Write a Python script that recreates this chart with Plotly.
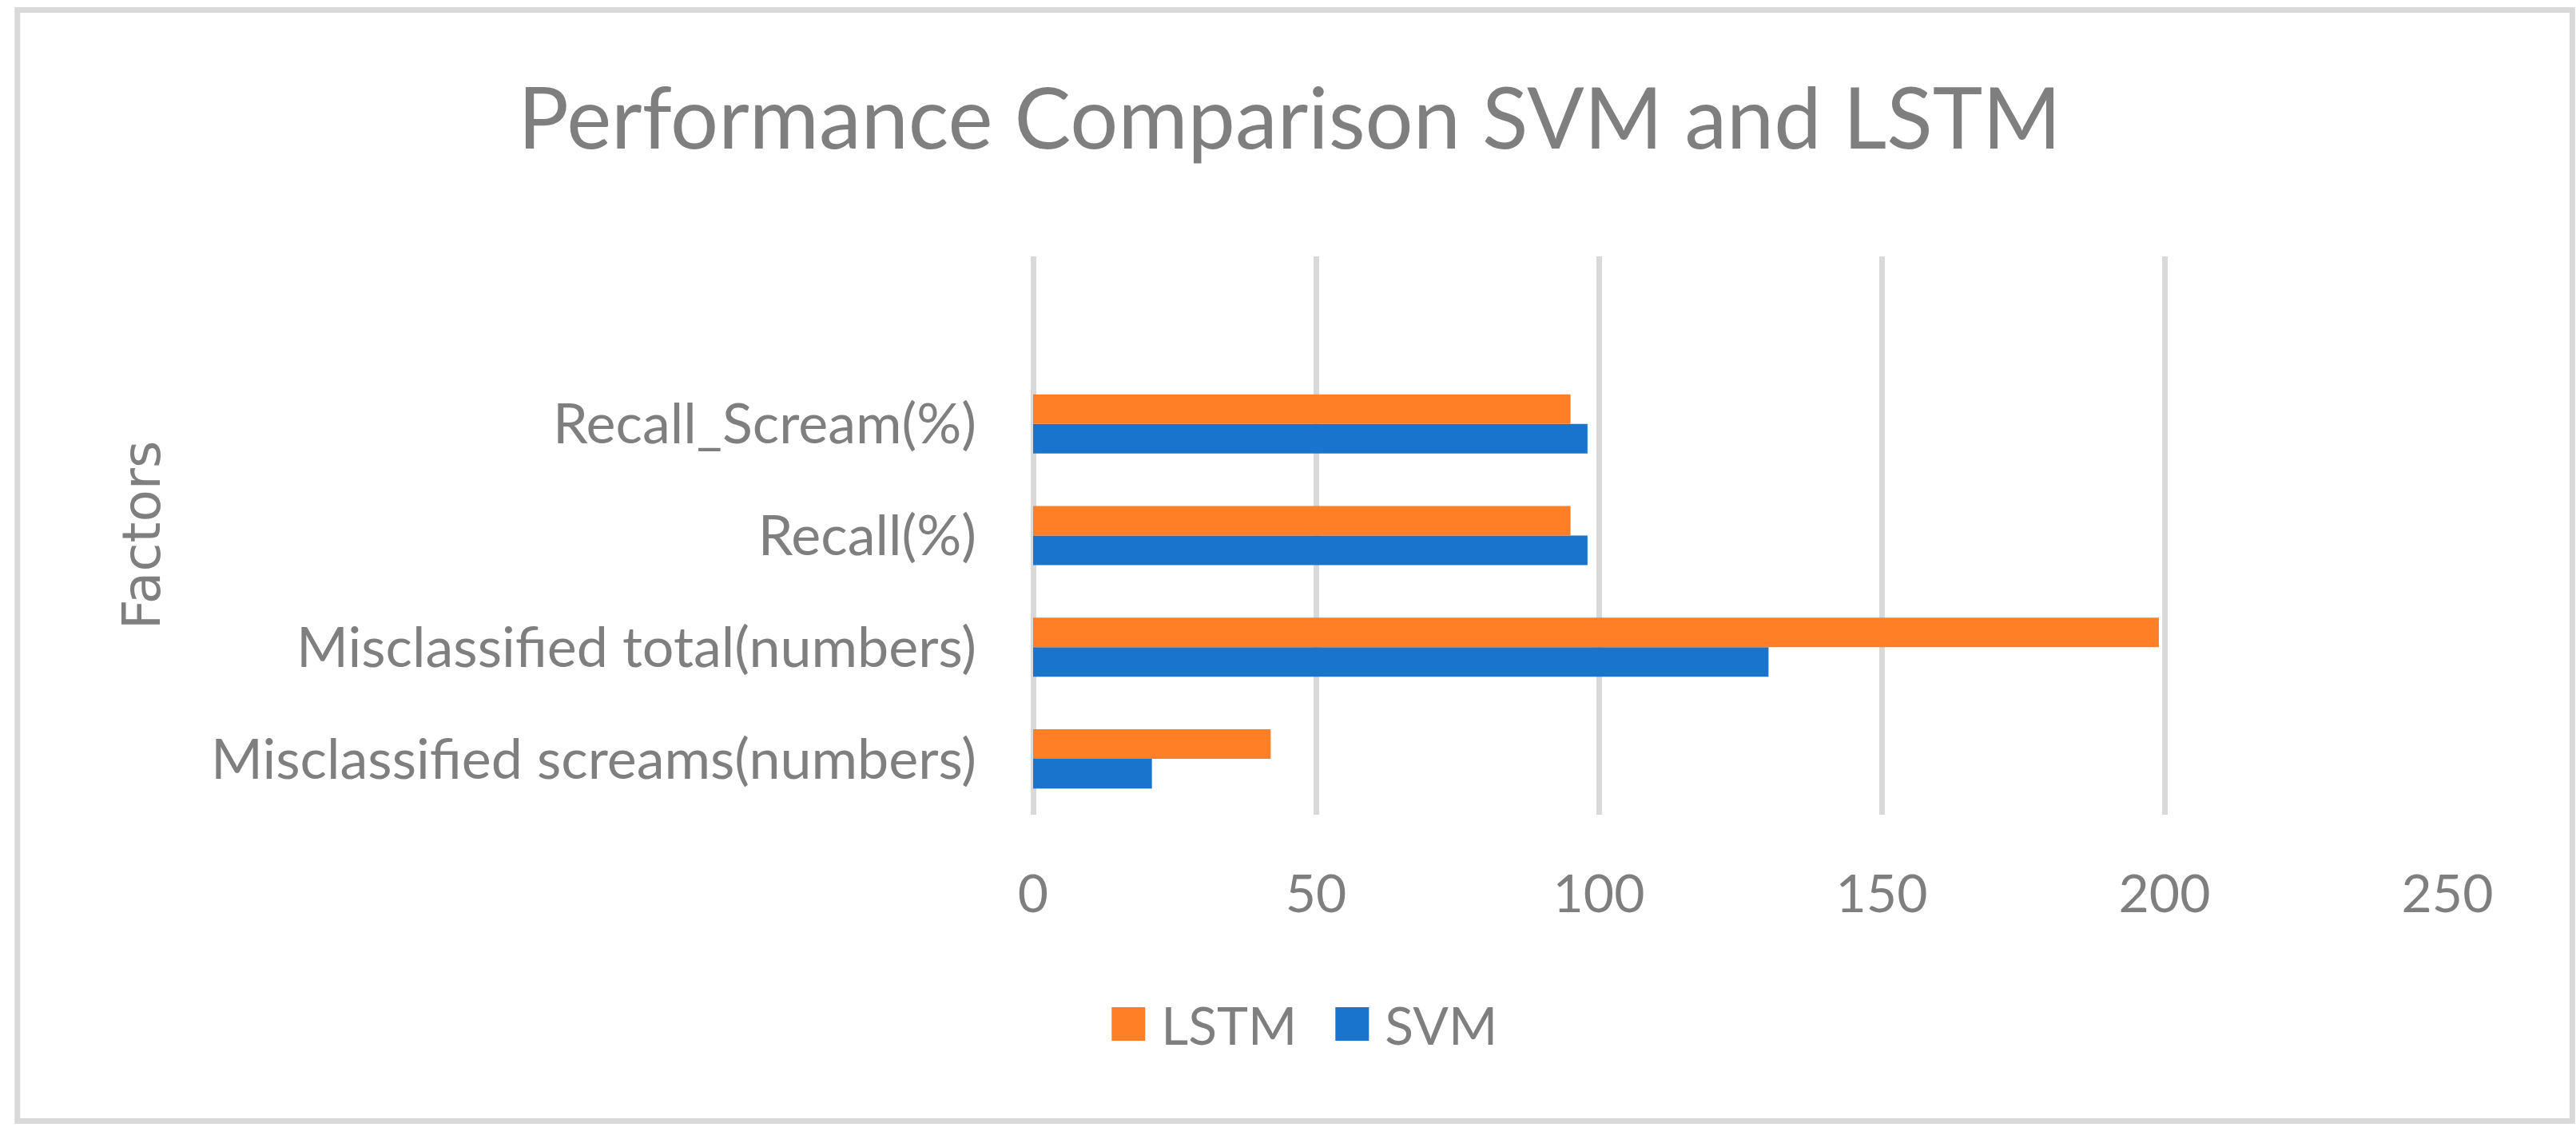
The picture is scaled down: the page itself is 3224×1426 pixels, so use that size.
import plotly.graph_objects as go

# ---- data ----
categories = [
    "Misclassified screams(numbers)",
    "Misclassified total(numbers)",
    "Recall(%)",
    "Recall_Scream(%)",
]
svm_values = [21, 130, 98, 98]
lstm_values = [42, 199, 95, 95]
x_ticks = [0, 50, 100, 150, 200, 250]

TITLE = "Performance Comparison SVM and LSTM"
Y_TITLE = "Factors"

W, H = 3224, 1426
PL, PR = 1292.5, 3063.5   # plot area left/right (px)
PT, PB = 321, 1020        # plot area top/bottom (px)

FONT = "Lato"
GRAY = "#7F7F7F"
GRID = "#D9D9D9"
ORANGE = "#FF7F27"
BLUE = "#1874CD"


def px_x(p):
    return (p - PL) / (PR - PL)


def px_y(p):
    return (PB - p) / (PB - PT)


fig = go.Figure()
fig.add_trace(go.Bar(y=categories, x=svm_values, name="SVM", orientation="h",
                     marker=dict(color=BLUE, line=dict(width=0))))
fig.add_trace(go.Bar(y=categories, x=lstm_values, name="LSTM", orientation="h",
                     marker=dict(color=ORANGE, line=dict(width=0))))

fig.update_layout(
    width=W, height=H,
    margin=dict(l=PL, r=W - PR, t=PT, b=H - PB, pad=0),
    paper_bgcolor="white", plot_bgcolor="white",
    barmode="group", bargap=0.47, bargroupgap=0,
    font=dict(family=FONT, color=GRAY, size=64),
    title=dict(text=TITLE, x=1614 / W, xanchor="center",
               y=1 - 149 / H, yanchor="middle", yref="container", xref="container",
               font=dict(family=FONT, size=106, color=GRAY)),
    showlegend=True,
    legend=dict(orientation="h", traceorder="reversed",
                x=px_x(1663), xanchor="center", y=px_y(1282), yanchor="middle",
                font=dict(family=FONT, size=66, color=GRAY),
                itemwidth=60, entrywidth=205, bgcolor="rgba(0,0,0,0)"),
    xaxis=dict(range=[0, 250], tickvals=x_ticks, showgrid=True, gridcolor=GRID,
               gridwidth=7, zeroline=True, zerolinecolor=GRID, zerolinewidth=7,
               showline=False, ticks="", ticklabelstandoff=55,
               tickfont=dict(family=FONT, size=66, color=GRAY), fixedrange=True),
    yaxis=dict(type="category", categoryorder="array", categoryarray=categories,
               range=[-0.5, 4.5], showgrid=False, zeroline=False, showline=False,
               ticks="", ticklabelstandoff=70,
               tickfont=dict(family=FONT, size=70, color=GRAY), fixedrange=True),
    shapes=[dict(type="rect", xref="paper", yref="paper",
                 x0=px_x(20.5), x1=px_x(3220), y0=px_y(1403.5), y1=px_y(12.5),
                 line=dict(color=GRID, width=7), fillcolor="rgba(0,0,0,0)",
                 layer="below")],
    annotations=[dict(text=Y_TITLE, xref="paper", yref="paper",
                      x=px_x(176), y=px_y(670), xanchor="center", yanchor="middle",
                      textangle=-90, showarrow=False,
                      font=dict(family="DejaVu Sans", size=66, color=GRAY))],
)

post = """
document.body.style.margin='0';
document.querySelectorAll('.legendpoints path').forEach(function(p){
  p.setAttribute('d','M15,21H-27V-21H15Z');
});
"""
fig.write_html("out.html", post_script=post, config={"displayModeBar": False})
